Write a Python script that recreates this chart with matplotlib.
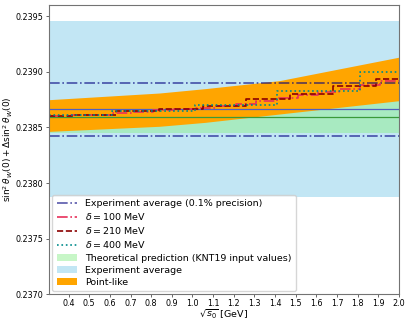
"""Running weak mixing angle: step approximations vs point-like band."""

import numpy as np
import matplotlib
matplotlib.use("Agg")
import matplotlib.pyplot as plt

# experiment average and its 0.1 % precision
EXP_CENTER = 0.238664
EXP_HALF = 0.000793
EXP_PREC_HALF = 0.000239

# theoretical prediction (KNT19 input values)
THEO_CENTER = 0.238594
THEO_HALF = 0.000142

# point-like band
band_x = [0.305, 0.84, 1.06, 1.42, 2.0]
band_lo = [0.238464, 0.238510, 0.238545, 0.238620, 0.238740]
band_hi = [0.238749, 0.238809, 0.238848, 0.238920, 0.239131]

# step curves: left edges of steps and values
d100_x = [0.305, 0.41, 0.51, 0.61, 0.71, 0.81, 0.91, 1.01, 1.11, 1.21,
          1.31, 1.41, 1.51, 1.61, 1.71, 1.81, 1.91, 2.0]
d100_y = [0.238603, 0.238608, 0.238614, 0.238625, 0.238640, 0.238652,
          0.238664, 0.238676, 0.238692, 0.238712, 0.238736, 0.238762,
          0.238790, 0.238818, 0.238848, 0.238880, 0.238915, 0.238915]

d210_x = [0.305, 0.42, 0.63, 0.84, 1.05, 1.26, 1.47, 1.68, 1.89, 2.0]
d210_y = [0.238605, 0.238614, 0.238644, 0.238665, 0.238690, 0.238758,
          0.238803, 0.238875, 0.238938, 0.238938]

d400_x = [0.305, 0.61, 1.01, 1.41, 1.81, 2.0]
d400_y = [0.238610, 0.238650, 0.238704, 0.238824, 0.238998, 0.238998]

XLIM = (0.305, 2.0)


def main() -> None:
    fig = plt.figure(figsize=(4.1, 3.22), dpi=100)
    ax = fig.add_axes([0.1195, 0.086, 0.8535, 0.8985])

    ax.axhspan(EXP_CENTER - EXP_HALF, EXP_CENTER + EXP_HALF,
               color="skyblue", alpha=0.5, lw=0, label="Experiment average")
    ax.axhspan(THEO_CENTER - THEO_HALF, THEO_CENTER + THEO_HALF,
               color="lightgreen", alpha=0.5, lw=0,
               label="Theoretical prediction (KNT19 input values)")
    ax.fill_between(band_x, band_lo, band_hi, color="orange", lw=0,
                    label="Point-like")

    ax.axhline(EXP_CENTER, color="#5060c0", lw=0.9)
    ax.axhline(THEO_CENTER, color="#3a9a3a", lw=0.9)
    for sgn in (-1, 1):
        ax.axhline(EXP_CENTER + sgn * EXP_PREC_HALF, color="navy", alpha=0.65,
                   lw=1.2, ls="-.",
                   label="Experiment average (0.1% precision)" if sgn < 0 else None)

    ax.step(d100_x, d100_y, where="post", color="#e8305a", lw=1.2, ls="-.",
            label=r"$\delta = 100$ MeV")
    ax.step(d210_x, d210_y, where="post", color="#8b0000", lw=1.2, ls="--",
            label=r"$\delta = 210$ MeV")
    ax.step(d400_x, d400_y, where="post", color="#008b8b", lw=1.2, ls=":",
            label=r"$\delta = 400$ MeV")

    ax.set_xlim(*XLIM)
    ax.set_ylim(0.2370, 0.2396)
    ax.set_xticks(np.round(np.arange(0.4, 2.01, 0.1), 1))
    ax.set_yticks([0.2370, 0.2375, 0.2380, 0.2385, 0.2390, 0.2395])
    ax.yaxis.set_major_formatter(matplotlib.ticker.FormatStrFormatter("%.4f"))
    ax.tick_params(labelsize=5.8, length=2.5, width=0.6, pad=1.5, colors="0.3",
                   labelcolor="black")
    ax.tick_params(axis="x", pad=1.2)
    for sp in ax.spines.values():
        sp.set_color("0.45")
        sp.set_linewidth(0.8)

    ax.set_xlabel(r"$\sqrt{s_0}$ [GeV]", fontsize=6.8, labelpad=-0.5)
    ax.set_ylabel(r"$\sin^2\hat{\theta}_W(0) + \Delta\sin^2\hat{\theta}_W(0)$",
                  fontsize=6.5, labelpad=0.5)

    handles, labels = ax.get_legend_handles_labels()
    order = ["Experiment average (0.1% precision)", r"$\delta = 100$ MeV",
             r"$\delta = 210$ MeV", r"$\delta = 400$ MeV",
             "Theoretical prediction (KNT19 input values)",
             "Experiment average", "Point-like"]
    lookup = dict(zip(labels, handles))
    ax.legend([lookup[k] for k in order], order, loc="lower left",
              fontsize=6.8, frameon=True, borderaxespad=0.35,
              handlelength=2.2, labelspacing=0.33, borderpad=0.45)

    fig.savefig("out.png", dpi=100)
    plt.close(fig)


if __name__ == "__main__":
    main()
